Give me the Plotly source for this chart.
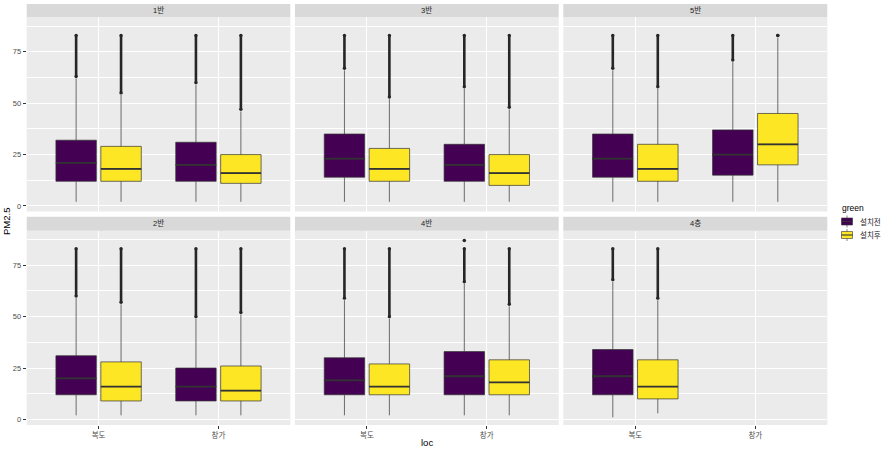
import plotly.graph_objects as go

# ---------------- data ----------------
panels = ["1반", "3반", "5반", "2반", "4반", "4층"]
locs = ["복도", "창가"]
groups = ["설치전", "설치후"]

# 설치전 : per panel -> [복도, 창가]
pre_q1 = [[12, 12], [14, 12], [14, 15], [12, 9], [12, 12], [12, None]]
pre_med = [[21, 20], [23, 20], [23, 25], [20, 16], [19, 21], [21, None]]
pre_q3 = [[32, 31], [35, 30], [35, 37], [31, 25], [30, 33], [34, None]]
pre_lo = [[2, 2], [2, 2], [2, 2], [2, 2], [2, 2], [1, None]]
pre_hi = [[62, 59], [66, 57], [66, 70], [59, 49], [58, 66], [67, None]]
pre_out_lo = [[63, 60], [67, 58], [67, 71], [60, 50], [59, 67], [68, None]]
pre_out_hi = [[83, 83], [83, 83], [83, 83], [83, 83], [83, 83], [83, None]]

# 설치후 : per panel -> [복도, 창가]
post_q1 = [[12, 11], [12, 10], [12, 20], [9, 9], [12, 12], [10, None]]
post_med = [[18, 16], [18, 16], [18, 30], [16, 14], [16, 18], [16, None]]
post_q3 = [[29, 25], [28, 25], [30, 45], [28, 26], [27, 29], [29, None]]
post_lo = [[2, 2], [2, 2], [2, 2], [2, 2], [2, 2], [3, None]]
post_hi = [[54, 46], [52, 47], [57, 82], [56, 51], [49, 55], [58, None]]
post_out_lo = [[55, 47], [53, 48], [58, 83], [57, 52], [50, 56], [59, None]]
post_out_hi = [[83, 83], [83, 83], [83, 83], [83, 83], [83, 83], [83, None]]

# isolated extra outliers
extra_panel = ["4반"]
extra_loc = ["창가"]
extra_group = ["설치전"]
extra_val = [87]

y_ticks = [0, 25, 50, 75]
y_minor = [12.5, 37.5, 62.5, 87.5]

# ---------------- style ----------------
W, H = 887, 451
fill = {"설치전": "#440154", "설치후": "#FDE725"}
BG = "#EBEBEB"
STRIP = "#D9D9D9"
LINE = "#333333"
PT = "#262626"
FONT = "Liberation Sans, Noto Sans CJK KR, sans-serif"

def px_x(a, b):
    return [a / W, b / W]

def px_y(top, bottom):
    return [1 - bottom / H, 1 - top / H]

def py(v):
    return 1 - v / H

xdoms = [px_x(26.7, 290.3), px_x(295.0, 558.7), px_x(563.3, 827.3)]
ydoms = [px_y(17.3, 211.5), px_y(230.7, 425.0)]
strips = [(4.0, 17.3), (216.7, 230.7)]

stats = {
    "설치전": (pre_q1, pre_med, pre_q3, pre_lo, pre_hi, pre_out_lo, pre_out_hi),
    "설치후": (post_q1, post_med, post_q3, post_lo, post_hi, post_out_lo, post_out_hi),
}

fig = go.Figure()
layout = {}
shapes = []
annotations = []

for k, pname in enumerate(panels):
    row, col = divmod(k, 3)
    ax = "" if k == 0 else str(k + 1)
    xname, yname = "x" + ax, "y" + ax
    for g in groups:
        q1, med, q3, lo, hi, olo, ohi = stats[g]
        idx = [i for i in range(2) if q1[k][i] is not None]
        xs = [locs[i] for i in idx]
        fig.add_trace(go.Box(
            x=xs,
            q1=[q1[k][i] for i in idx], median=[med[k][i] for i in idx],
            q3=[q3[k][i] for i in idx], lowerfence=[lo[k][i] for i in idx],
            upperfence=[hi[k][i] for i in idx],
            name=g, showlegend=False, offsetgroup=g,
            fillcolor=fill[g], line=dict(color=LINE, width=0.7), whiskerwidth=0,
            boxpoints=False, xaxis=xname, yaxis=yname, hoverinfo="skip",
        ))
        # thicker median line (ggplot fatten)
        fig.add_trace(go.Box(
            x=xs,
            q1=[med[k][i] for i in idx], median=[med[k][i] for i in idx],
            q3=[med[k][i] for i in idx], lowerfence=[med[k][i] for i in idx],
            upperfence=[med[k][i] for i in idx],
            name=g, showlegend=False, offsetgroup=g,
            fillcolor="rgba(0,0,0,0)", line=dict(color=LINE, width=1.8), whiskerwidth=0,
            boxpoints=False, xaxis=xname, yaxis=yname, hoverinfo="skip",
        ))
        # outlier columns
        for i in idx:
            fig.add_trace(go.Scatter(
                x=[locs[i], locs[i]], y=[olo[k][i], ohi[k][i]],
                mode="lines+markers", orientation="v", offsetgroup=g,
                line=dict(color=PT, width=2.6),
                marker=dict(color=PT, size=3.4),
                showlegend=False, xaxis=xname, yaxis=yname, hoverinfo="skip",
            ))
    for j in range(len(extra_val)):
        if extra_panel[j] == pname:
            fig.add_trace(go.Scatter(
                x=[extra_loc[j]], y=[extra_val[j]], mode="markers", orientation="v",
                offsetgroup=extra_group[j], marker=dict(color=PT, size=3.6),
                showlegend=False, xaxis=xname, yaxis=yname, hoverinfo="skip",
            ))

    bottom = row == 1
    left = col == 0
    layout["xaxis" + ax] = dict(
        domain=xdoms[col], anchor=yname, type="category",
        categoryorder="array", categoryarray=locs, range=[-0.6, 1.6],
        showgrid=True, gridcolor="white", gridwidth=1.1, zeroline=False, showline=False,
        ticks="outside" if bottom else "", ticklen=3, tickwidth=0.7, tickcolor=LINE,
        showticklabels=bottom, tickfont=dict(family=FONT, size=7.5, color="#4D4D4D"),
        fixedrange=True, automargin=False,
    )
    layout["yaxis" + ax] = dict(
        domain=ydoms[row], anchor=xname, range=[-2.7, 91.8],
        tickvals=y_ticks, ticktext=[str(v) for v in y_ticks],
        showgrid=True, gridcolor="white", gridwidth=1.1, zeroline=False, showline=False,
        minor=dict(tickvals=y_minor, showgrid=True, gridcolor="white", gridwidth=0.5),
        ticks="outside" if left else "", ticklen=3, tickwidth=0.7, tickcolor=LINE,
        showticklabels=left, tickfont=dict(family=FONT, size=7.5, color="#4D4D4D"),
        fixedrange=True, automargin=False,
    )
    s_top, s_bot = strips[row]
    shapes.append(dict(type="rect", xref="paper", yref="paper",
                       x0=xdoms[col][0], x1=xdoms[col][1],
                       y0=py(s_bot), y1=py(s_top),
                       fillcolor=STRIP, line=dict(width=0), layer="below"))
    annotations.append(dict(text=pname, xref="paper", yref="paper",
                            x=(xdoms[col][0] + xdoms[col][1]) / 2,
                            y=py((s_top + s_bot) / 2),
                            xanchor="center", yanchor="middle", showarrow=False,
                            font=dict(family=FONT, size=7.5, color="#1A1A1A")))

annotations.append(dict(text="loc", xref="paper", yref="paper", x=427 / W, y=py(442.5),
                        xanchor="center", yanchor="middle", showarrow=False,
                        font=dict(family=FONT, size=9.5, color="#000000")))
annotations.append(dict(text="PM2.5", xref="paper", yref="paper", x=7 / W, y=py(222),
                        xanchor="center", yanchor="middle", showarrow=False, textangle=-90,
                        font=dict(family=FONT, size=9.5, color="#000000")))

# ---------------- legend (ggplot style keys) ----------------
annotations.append(dict(text="green", xref="paper", yref="paper", x=839.5 / W, y=py(208),
                        xanchor="left", yanchor="middle", showarrow=False,
                        font=dict(family=FONT, size=8.5, color="#000000")))
for j, g in enumerate(groups):
    cy = 221.5 + j * 13.5
    kx0, kx1 = 841.5, 852.5
    kxm = (kx0 + kx1) / 2
    shapes.append(dict(type="line", xref="paper", yref="paper", x0=kxm / W, x1=kxm / W,
                       y0=py(cy - 6), y1=py(cy + 6), line=dict(color=LINE, width=0.6)))
    shapes.append(dict(type="rect", xref="paper", yref="paper", x0=kx0 / W, x1=kx1 / W,
                       y0=py(cy + 3.5), y1=py(cy - 3.5), fillcolor=fill[g],
                       line=dict(color=LINE, width=0.6)))
    shapes.append(dict(type="line", xref="paper", yref="paper", x0=kx0 / W, x1=kx1 / W,
                       y0=py(cy), y1=py(cy), line=dict(color=LINE, width=1.1)))
    annotations.append(dict(text=g, xref="paper", yref="paper", x=857.5 / W, y=py(cy),
                            xanchor="left", yanchor="middle", showarrow=False,
                            font=dict(family=FONT, size=7.5, color="#1A1A1A")))

fig.update_layout(
    width=W, height=H, template="none",
    margin=dict(l=0, r=0, t=0, b=0, pad=0),
    paper_bgcolor="white", plot_bgcolor=BG,
    boxmode="group", boxgap=0.25, boxgroupgap=0.1,
    scattermode="group", scattergap=0.25,
    showlegend=False,
    shapes=shapes, annotations=annotations,
    **layout,
)

fig.write_html("out.html", config={"displayModeBar": False},
               post_script="document.body.style.margin='0';")
